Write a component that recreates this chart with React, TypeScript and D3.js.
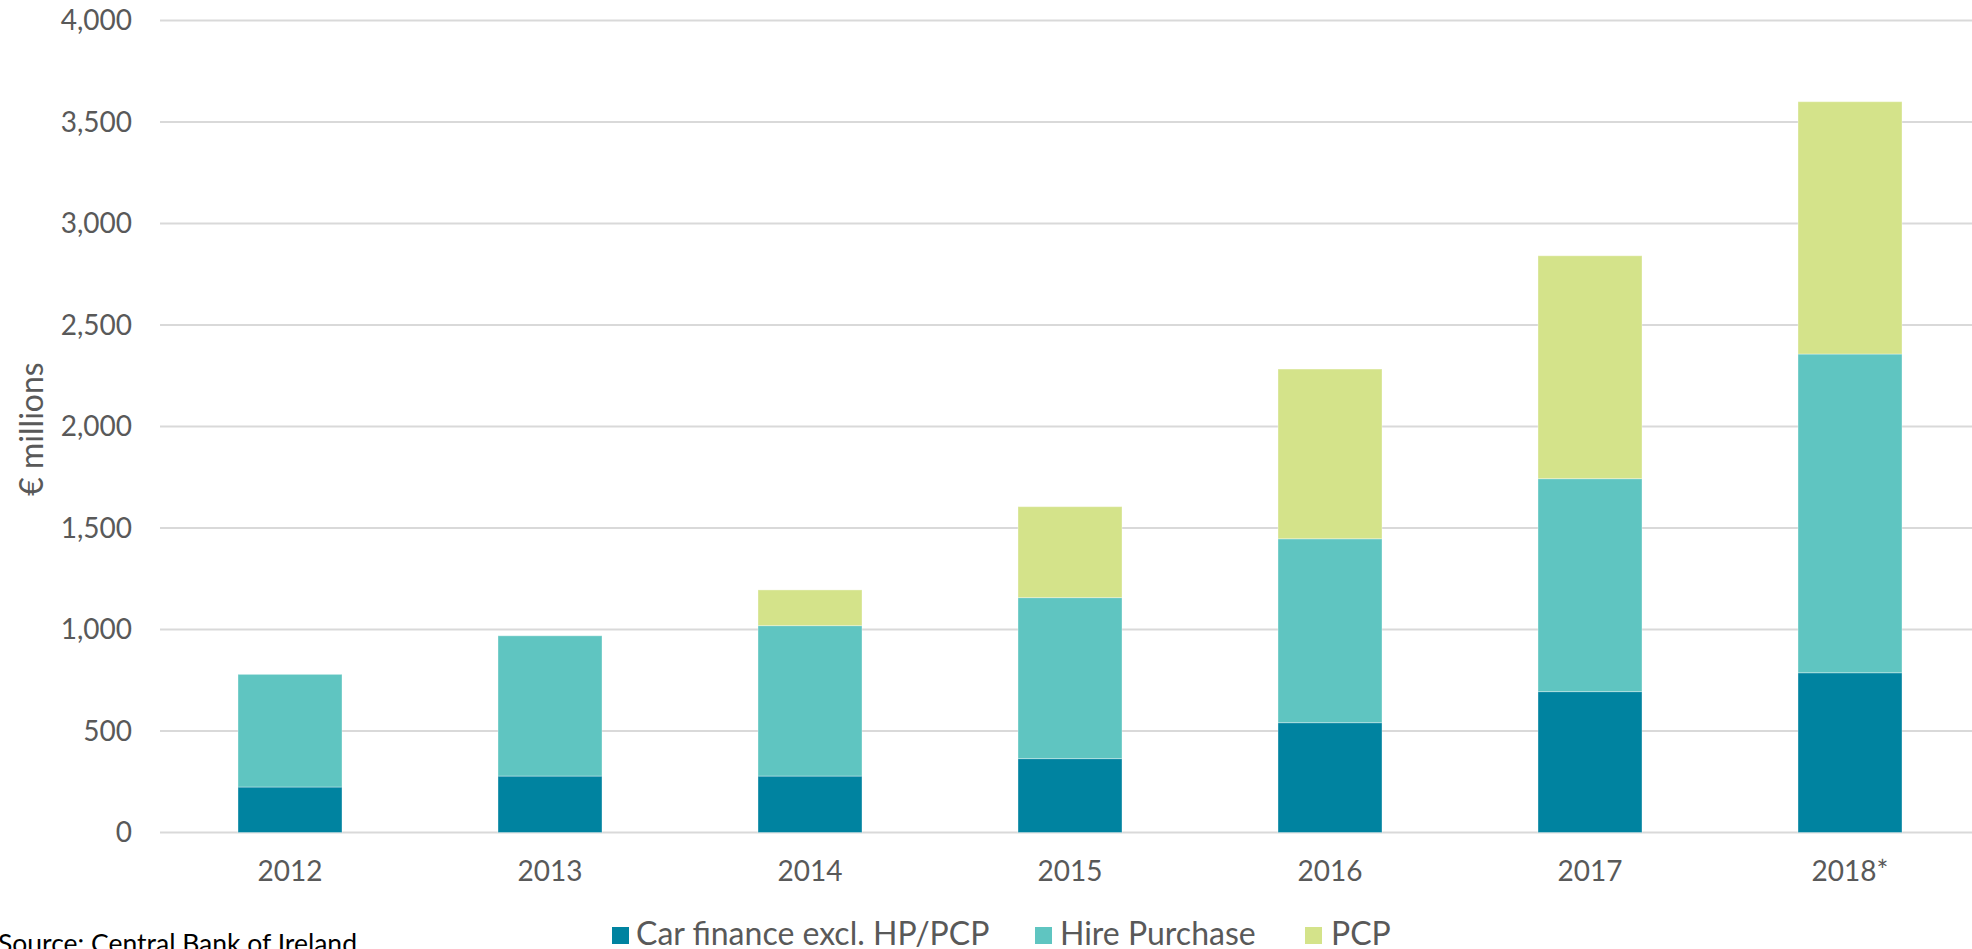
import React from "react";
import * as d3 from "d3";

const years = ["2012", "2013", "2014", "2015", "2016", "2017", "2018*"];
const carFinance = [224, 278, 278, 364, 541, 694, 787];
const hirePurchase = [555, 691, 741, 793, 906, 1049, 1570];
const pcp = [0, 0, 176, 448, 836, 1098, 1243];
const yTicks = [0, 500, 1000, 1500, 2000, 2500, 3000, 3500, 4000];
const seriesNames = ["Car finance excl. HP/PCP", "Hire Purchase", "PCP"];
const seriesColors = ["#0083A0", "#5FC5C1", "#D4E38A"];

const W = 1972;
const H = 949;
const FONT = "Lato, 'Noto Sans', sans-serif";

export default function App() {
  const x = d3
    .scaleBand<string>()
    .domain(years)
    .range([160, 1980])
    .paddingInner(0.6)
    .paddingOuter(0.3);
  const y = d3.scaleLinear().domain([0, 4000]).range([832.5, 20.5]);
  const fmt = d3.format(",");

  const table = years.map((yr, i) => ({
    year: yr,
    s0: carFinance[i],
    s1: hirePurchase[i],
    s2: pcp[i],
  }));
  const stack = d3.stack<any>().keys(["s0", "s1", "s2"]);
  const layers = stack(table);

  const legendItems = [
    { sq: 612, tx: 636 },
    { sq: 1035, tx: 1060 },
    { sq: 1305, tx: 1331 },
  ];

  return (
    <svg
      width={W}
      height={H}
      style={{ position: "absolute", left: 0, top: 0, background: "#fff" }}
      fontFamily={FONT}
    >
      <rect x={0} y={0} width={W} height={H} fill="#fff" />
      {yTicks.map((t) => (
        <g key={t}>
          <line
            x1={160}
            x2={W}
            y1={y(t)}
            y2={y(t)}
            stroke="#D9D9D9"
            strokeWidth={2}
          />
          <text
            x={132}
            y={y(t)}
            dy="0.35em"
            textAnchor="end"
            fontSize={28}
            fill="#595959"
          >
            {fmt(t)}
          </text>
        </g>
      ))}
      {layers.map((layer, li) => (
        <g key={li} fill={seriesColors[li]}>
          {layer.map((d, i) => {
            const h = y(d[0]) - y(d[1]);
            if (h <= 0) return null;
            return (
              <rect
                key={i}
                x={x(years[i])}
                y={y(d[1])}
                width={x.bandwidth()}
                height={h}
                stroke="#ffffff"
                strokeOpacity={0.35}
                strokeWidth={1}
              />
            );
          })}
        </g>
      ))}
      {years.map((yr) => (
        <text
          key={yr}
          x={(x(yr) as number) + x.bandwidth() / 2}
          y={881}
          textAnchor="middle"
          fontSize={28}
          fill="#595959"
        >
          {yr}
        </text>
      ))}
      <text
        transform={`translate(43, 429) rotate(-90)`}
        textAnchor="middle"
        fontSize={32}
        fill="#595959"
      >
        € millions
      </text>
      {seriesNames.map((name, i) => (
        <g key={name}>
          <rect
            x={legendItems[i].sq}
            y={927}
            width={17}
            height={17}
            fill={seriesColors[i]}
          />
          <text x={legendItems[i].tx} y={945} fontSize={32} fill="#595959">
            {name}
          </text>
        </g>
      ))}
      <text x={-2} y={953} fontSize={26.5} fill="#000">
        Source: Central Bank of Ireland
      </text>
    </svg>
  );
}
